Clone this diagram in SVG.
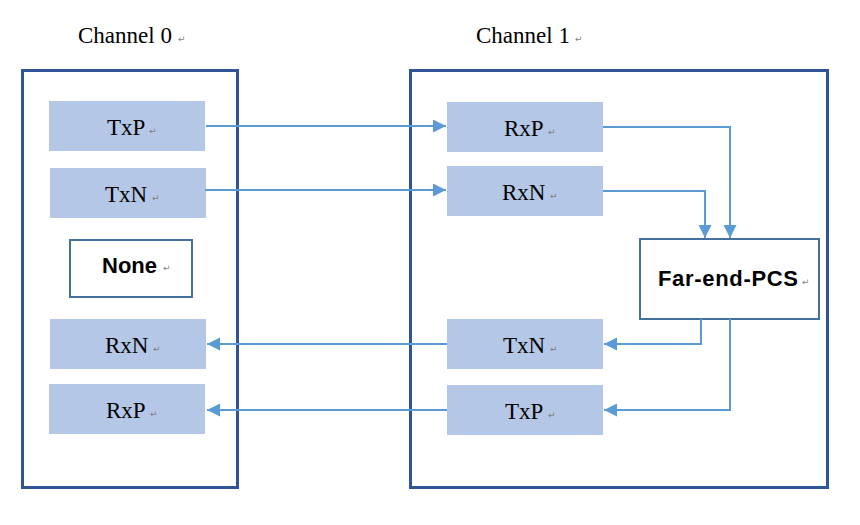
<svg xmlns="http://www.w3.org/2000/svg" width="860" height="525" viewBox="0 0 860 525">
<style>
.outer{fill:none;stroke:#2F5597;stroke-width:3}
.blk{fill:#B4C7E7;stroke:none}
.wbox{fill:#FFFFFF;stroke:#41719C;stroke-width:2}
.serif{font-family:"Liberation Serif","Times New Roman",serif;font-size:23px;fill:#000}
.sans{font-family:"Liberation Sans",Arial,sans-serif;font-size:22px;font-weight:bold;fill:#000}
.ret{font-family:"DejaVu Sans",sans-serif;font-size:9px;fill:#7F7F7F}
.conn{fill:none;stroke:#5B9BD5;stroke-width:2}
</style>
<defs>
<marker id="arr" markerUnits="userSpaceOnUse" markerWidth="14" markerHeight="14" refX="13" refY="6.5" orient="auto">
<path d="M0,0 L13,6.5 L0,13 z" fill="#5B9BD5"/>
</marker>
</defs>
<rect width="860" height="525" fill="#FFFFFF"/>

<g id="title0"><text class="serif" x="78" y="43">Channel 0</text><text class="ret" x="178" y="42">↵</text></g>
<g id="title1"><text class="serif" x="476" y="43">Channel 1</text><text class="ret" x="575" y="42">↵</text></g>

<g id="channel0"><rect class="outer" x="22.5" y="70.5" width="215" height="417"/></g>
<g id="channel1"><rect class="outer" x="410.5" y="70.5" width="417" height="417"/></g>

<g id="c0-txp"><rect class="blk" x="49" y="101" width="156" height="50"/><text class="serif" x="107" y="135">TxP</text><text class="ret" x="149" y="134">↵</text></g>
<g id="c0-txn"><rect class="blk" x="50" y="168" width="156" height="50"/><text class="serif" x="105" y="202">TxN</text><text class="ret" x="152" y="201">↵</text></g>
<g id="c0-none"><rect class="wbox" x="70" y="240" width="122" height="57"/><text class="sans" x="102" y="273">None</text><text class="ret" x="163" y="271">↵</text></g>
<g id="c0-rxn"><rect class="blk" x="50" y="319" width="156" height="50"/><text class="serif" x="105" y="353">RxN</text><text class="ret" x="153" y="352">↵</text></g>
<g id="c0-rxp"><rect class="blk" x="49" y="384" width="156" height="50"/><text class="serif" x="106" y="418">RxP</text><text class="ret" x="150" y="417">↵</text></g>

<g id="c1-rxp"><rect class="blk" x="447" y="102" width="156" height="50"/><text class="serif" x="504" y="136">RxP</text><text class="ret" x="548" y="135">↵</text></g>
<g id="c1-rxn"><rect class="blk" x="447" y="166" width="156" height="50"/><text class="serif" x="502" y="200">RxN</text><text class="ret" x="550" y="199">↵</text></g>
<g id="c1-pcs"><rect class="wbox" x="640" y="239" width="179" height="80"/><text class="sans" x="658" y="286" textLength="140" lengthAdjust="spacing">Far-end-PCS</text><text class="ret" x="802" y="285">↵</text></g>
<g id="c1-txn"><rect class="blk" x="447" y="319" width="156" height="50"/><text class="serif" x="503" y="353">TxN</text><text class="ret" x="550" y="352">↵</text></g>
<g id="c1-txp"><rect class="blk" x="447" y="385" width="156" height="50"/><text class="serif" x="505" y="419">TxP</text><text class="ret" x="548" y="418">↵</text></g>

<g id="connectors">
<path class="conn" d="M206,126 L446,126" marker-end="url(#arr)"/>
<path class="conn" d="M205,190 L446,190" marker-end="url(#arr)"/>
<path class="conn" d="M603,127 L730,127 L730,238" marker-end="url(#arr)"/>
<path class="conn" d="M603,191 L705,191 L705,238" marker-end="url(#arr)"/>
<path class="conn" d="M701,319 L701,344 L604,344" marker-end="url(#arr)"/>
<path class="conn" d="M730,319 L730,410 L604,410" marker-end="url(#arr)"/>
<path class="conn" d="M447,344 L207,344" marker-end="url(#arr)"/>
<path class="conn" d="M447,410 L207,410" marker-end="url(#arr)"/>
</g>
</svg>
